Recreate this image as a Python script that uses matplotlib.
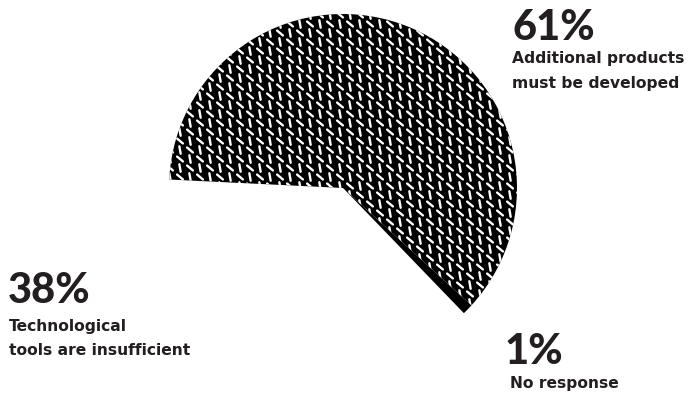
import numpy as np
import matplotlib.pyplot as plt
from matplotlib.collections import LineCollection

# survey shares (percent), order drawn counter-clockwise from the start angle
labels = ["No response", "Additional products must be developed", "Technological tools are insufficient"]
shares = [1, 61, 38]
pct_text = ["1%", "61%", "38%"]
desc_text = [["No response"],
             ["Additional products", "must be developed"],
             ["Technological", "tools are insufficient"]]

INK = "#231f20"

fig = plt.figure(figsize=(6.92, 3.95), dpi=100)
ax = fig.add_axes([0, 0, 1, 1])

wedges, _ = ax.pie(shares, startangle=-46, counterclock=True,
                   colors=["black", "black", "none"],
                   radius=174, center=(343, 207),
                   wedgeprops=dict(linewidth=0))

# white dash texture on the big wedge
segs = []
step_x, step_y = 10.0, 9.0
half = 3.8
for j, yy in enumerate(np.arange(20, 395, step_y)):
    for i, xx in enumerate(np.arange(160, 530, step_x)):
        if (i + j) % 2 == 0:
            a = np.deg2rad(-40)
        else:
            a = np.deg2rad(100)
        dx, dy = half * np.cos(a), half * np.sin(a)
        segs.append([(xx - dx, yy - dy), (xx + dx, yy + dy)])
lc = LineCollection(segs, colors="white", linewidths=1.7, capstyle="round")
ax.add_collection(lc)
lc.set_clip_path(wedges[1])

ax.set_xlim(0, 692)
ax.set_ylim(0, 395)
ax.set_aspect("equal")
ax.axis("off")

big = dict(family="Lato", fontweight="black", fontsize=30, color=INK, va="baseline")
small = dict(family="DejaVu Sans", fontweight="bold", fontsize=11.2, color=INK, va="baseline")

# 61%
ax.text(512, 355, pct_text[1], **big)
ax.text(512, 332, desc_text[1][0], **small)
ax.text(512, 307, desc_text[1][1], **small)
# 38%
ax.text(8, 92, pct_text[2], **big)
ax.text(9, 64, desc_text[2][0], **small)
ax.text(9, 40, desc_text[2][1], **small)
# 1%
ax.text(505, 31, pct_text[0], **big)
ax.text(510, 7, desc_text[0][0], **small)

fig.savefig("out.png", dpi=100, facecolor="white")
